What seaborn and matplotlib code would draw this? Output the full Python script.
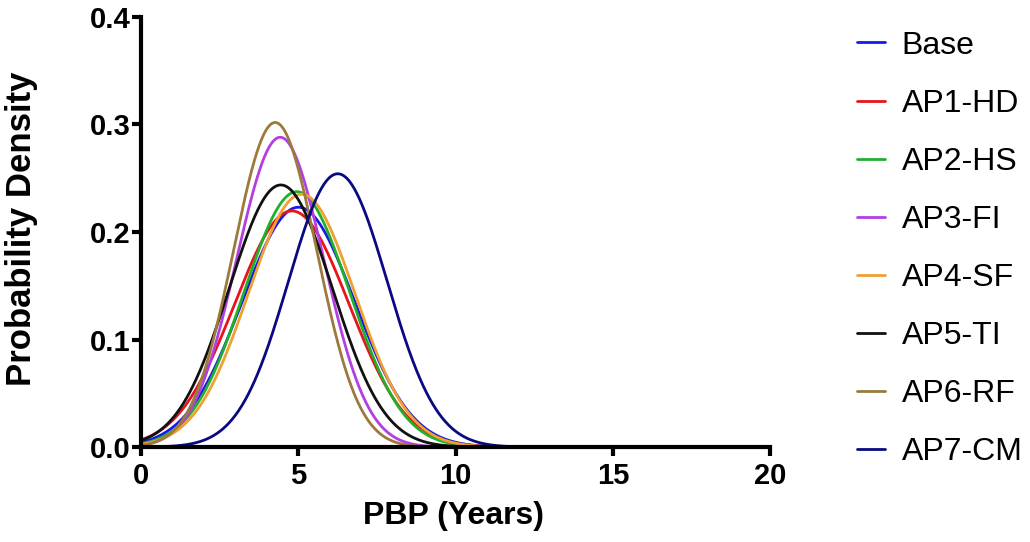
import numpy as np
import pandas as pd
import matplotlib
matplotlib.use("Agg")
import matplotlib.pyplot as plt
import seaborn as sns

# Payback-period scenarios: normal distribution parameters (years)
scenarios = ["Base", "AP1-HD", "AP2-HS", "AP3-FI", "AP4-SF", "AP5-TI", "AP6-RF", "AP7-CM"]
means = [5.00, 4.79, 4.95, 4.42, 5.10, 4.44, 4.26, 6.25]
std_devs = [1.789, 1.817, 1.680, 1.385, 1.697, 1.637, 1.322, 1.570]
colors = ["#1a1ae6", "#e8141b", "#21b02a", "#b43fe0", "#f0a030", "#111111", "#9c7a3c", "#0a0a80"]

x_ticks = [0, 5, 10, 15, 20]
y_ticks = [0.0, 0.1, 0.2, 0.3, 0.4]

pbp = np.linspace(0, 15, 600)
frames = []
for name, mu, sd in zip(scenarios, means, std_devs):
    dens = np.exp(-0.5 * ((pbp - mu) / sd) ** 2) / (sd * np.sqrt(2 * np.pi))
    frames.append(pd.DataFrame({"PBP": pbp, "Density": dens, "Scenario": name}))
df = pd.concat(frames, ignore_index=True)

sns.set_theme(style="ticks")
plt.rcParams["font.family"] = ["Liberation Sans", "DejaVu Sans"]
for key in ["text.color", "axes.labelcolor", "xtick.color", "ytick.color", "axes.edgecolor"]:
    plt.rcParams[key] = "black"

fig = plt.figure(figsize=(10.30, 5.42), dpi=100)
ax = fig.add_axes([0.137, 0.175, 0.611, 0.794])

sns.lineplot(data=df, x="PBP", y="Density", hue="Scenario", hue_order=scenarios,
             palette=dict(zip(scenarios, colors)), linewidth=2.0, ax=ax,
             legend=True, clip_on=False)

ax.set_xlim(0, 20)
ax.set_ylim(0, 0.4)
ax.set_xticks(x_ticks)
ax.set_xticklabels([str(t) for t in x_ticks])
ax.set_yticks(y_ticks)
ax.set_yticklabels([f"{t:.1f}" for t in y_ticks])
ax.set_xlabel("PBP (Years)", fontsize=23, fontweight="bold")
ax.set_ylabel("Probability Density", fontsize=25, fontweight="bold")
ax.xaxis.set_label_coords(0.496, -0.126)
ax.yaxis.set_label_coords(-0.164, 0.507)

for side in ["top", "right"]:
    ax.spines[side].set_visible(False)
for side in ["left", "bottom"]:
    ax.spines[side].set_linewidth(3)
ax.tick_params(axis="both", direction="out", length=6.5, width=3, labelsize=21)
ax.tick_params(axis="x", pad=4)
ax.tick_params(axis="y", pad=1)
for lbl in ax.get_xticklabels() + ax.get_yticklabels():
    lbl.set_fontweight("bold")

leg = ax.legend(loc="upper left", bbox_to_anchor=(0.820, 0.967), bbox_transform=fig.transFigure,
                frameon=False, fontsize=23, handlelength=0.88, handletextpad=0.5,
                labelspacing=0.88, borderaxespad=0)
for line in leg.get_lines():
    line.set_linewidth(2)

fig.savefig("out.png", dpi=100)
